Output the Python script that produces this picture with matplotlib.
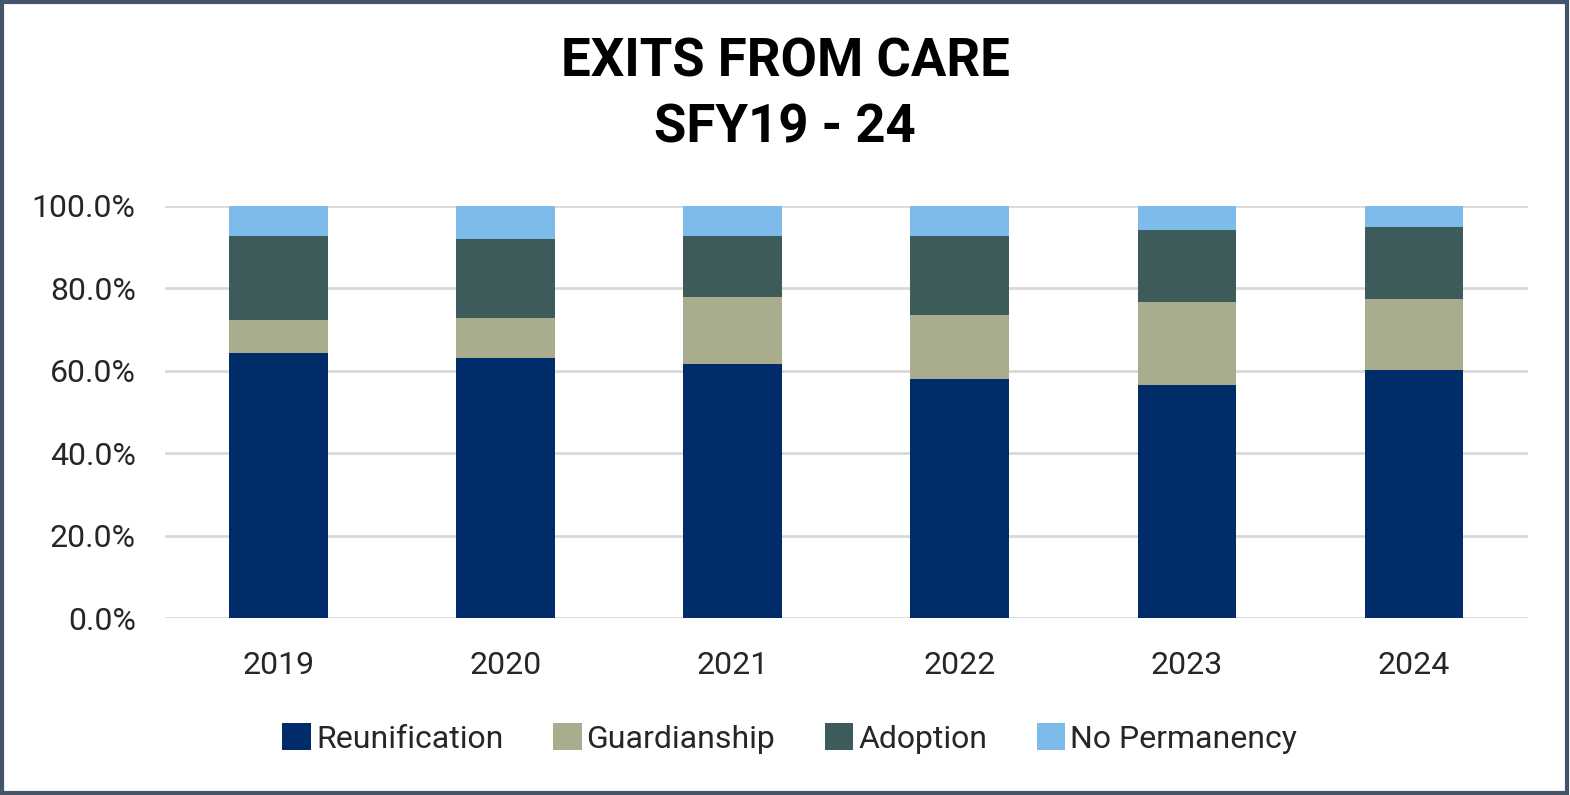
import matplotlib
matplotlib.use("Agg")
import matplotlib.pyplot as plt
from matplotlib.patches import Rectangle
from matplotlib.ticker import FuncFormatter

years = ["2019", "2020", "2021", "2022", "2023", "2024"]
reunification = [64.4, 63.2, 61.7, 58.1, 56.6, 60.2]
guardianship = [7.8, 9.7, 16.1, 15.5, 20.0, 17.1]
adoption = [20.4, 19.0, 14.8, 19.0, 17.5, 17.5]
no_permanency = [7.4, 8.1, 7.4, 7.4, 5.9, 5.2]

series = [
    ("Reunification", reunification, "#002D6A"),
    ("Guardianship", guardianship, "#A9AD8D"),
    ("Adoption", adoption, "#3D5B5A"),
    ("No Permanency", no_permanency, "#7DBCEA"),
]

plt.rcParams['font.family'] = ['Roboto', 'DejaVu Sans']

fig = plt.figure(figsize=(15.7, 7.95), dpi=100)
ax = fig.add_axes([0.105, 0.2226, 0.868, 0.5184])

x = range(len(years))
bottom = [0.0] * len(years)
for name, vals, color in series:
    ax.bar(x, vals, bottom=bottom, width=0.435, color=color, label=name, zorder=3)
    bottom = [b + v for b, v in zip(bottom, vals)]

ax.set_ylim(0, 100)
ax.set_xlim(-0.5, len(years) - 0.5)
ax.set_yticks([0, 20, 40, 60, 80, 100])
ax.yaxis.set_major_formatter(FuncFormatter(lambda v, p: f"{v:.1f}%"))
ax.set_xticks(list(x))
ax.set_xticklabels(years)
ax.grid(axis='y', color='#D9D9D9', linewidth=2, zorder=0)
for s in ax.spines.values():
    s.set_visible(False)
ax.tick_params(axis='both', length=0, labelsize=23, colors='#262626')
ax.tick_params(axis='y', pad=21)
ax.tick_params(axis='x', pad=24)

fig.text(0.5, 0.922, "EXITS FROM CARE", ha='center', va='center',
         fontsize=38, fontweight='bold', color='black')
fig.text(0.5, 0.839, "SFY19 - 24", ha='center', va='center',
         fontsize=38, fontweight='bold', color='black')

leg = fig.legend(loc='center', bbox_to_anchor=(0.503, 0.071), ncol=4, frameon=False,
                 fontsize=23, handlelength=0.9, handleheight=0.9, handletextpad=0.15,
                 columnspacing=1.55, labelcolor='#262626')

fig.patches.append(Rectangle((0.001, 0.002), 0.997, 0.996, transform=fig.transFigure,
                             fill=False, edgecolor='#44546A', linewidth=3))

fig.savefig("out.png", dpi=100, facecolor='white')
